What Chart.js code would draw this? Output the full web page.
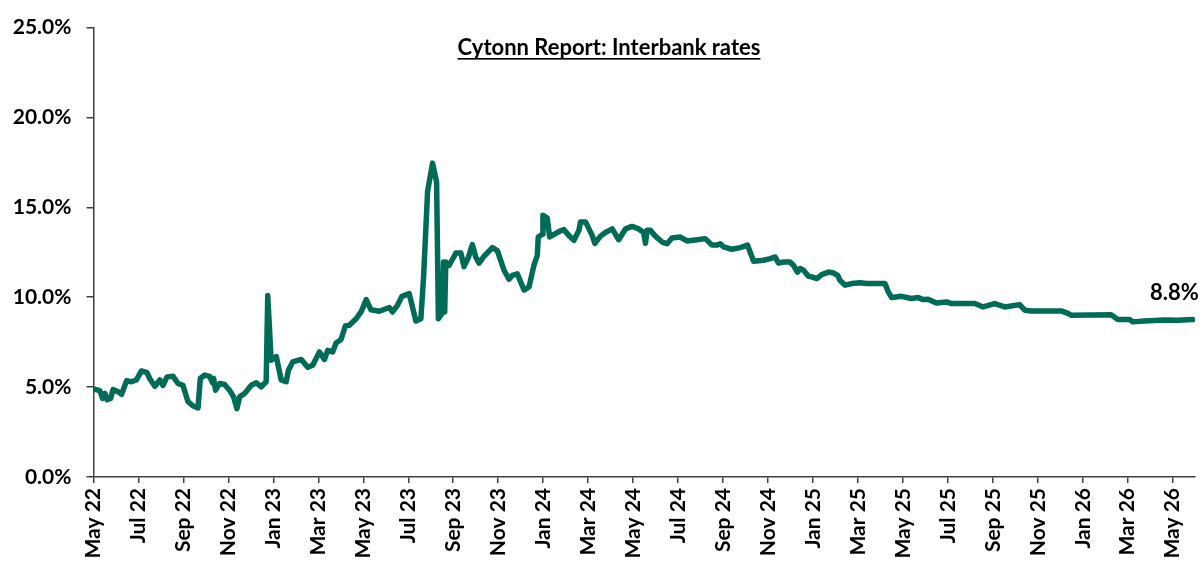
<!DOCTYPE html>
<html>
<head>
<meta charset="utf-8">
<script src="https://cdn.jsdelivr.net/npm/chart.js@4.4.1/dist/chart.umd.min.js"></script>
<style>
html,body{margin:0;padding:0;background:#ffffff;}
#wrap{width:1203px;height:565px;position:relative;}
</style>
</head>
<body>
<div id="wrap"><canvas id="c" width="1203" height="565"></canvas></div>
<script>
const chartTitle = 'Cytonn Report: Interbank rates';

// x tick positions (months since May 2022) and their labels
const tickMonths = [0,2,4,6,8,10,12,14,16,18,20,22,24,26,28,30,32,34,36,38,40,42,44,46,48];
const tickLabels = ['May 22','Jul 22','Sep 22','Nov 22','Jan 23','Mar 23','May 23','Jul 23','Sep 23','Nov 23',
  'Jan 24','Mar 24','May 24','Jul 24','Sep 24','Nov 24','Jan 25','Mar 25','May 25','Jul 25','Sep 25','Nov 25',
  'Jan 26','Mar 26','May 26'];

// series: time (months since May 2022) and interbank rate (%)
const months = [0,0.28,0.40,0.51,0.61,0.76,0.87,1.10,1.25,1.47,1.69,1.91,2.13,2.38,2.50,2.73,2.95,3.09,3.27,3.54,
  3.76,3.98,4.20,4.43,4.65,4.75,4.94,5.17,5.29,5.34,5.43,5.61,5.83,6.05,6.23,6.38,6.50,6.72,7.02,7.24,
  7.46,7.68,7.75,7.90,8.13,8.35,8.57,8.67,8.86,9.24,9.53,9.75,10.05,10.27,10.42,10.64,10.79,11.01,11.20,11.38,
  11.68,11.90,12.13,12.34,12.71,13.16,13.30,13.52,13.72,14.04,14.34,14.56,14.68,14.86,15.08,15.26,15.34,15.52,15.57,15.62,
  15.67,15.82,16.12,16.34,16.48,16.68,16.85,17.00,17.15,17.37,17.74,17.96,18.26,18.48,18.63,18.85,19.15,19.37,19.59,19.74,
  19.78,19.96,19.99,20.18,20.29,20.48,20.78,20.92,21.14,21.37,21.59,21.66,21.89,22.18,22.30,22.55,22.77,23.07,23.36,23.66,
  23.95,24.25,24.47,24.55,24.62,24.77,24.99,25.29,25.51,25.73,26.10,26.40,26.84,27.21,27.51,27.73,27.88,28.02,28.39,28.77,
  29.09,29.36,29.80,30.10,30.32,30.47,30.69,30.98,31.13,31.31,31.43,31.58,31.80,31.94,32.17,32.39,32.69,32.91,33.10,33.20,
  33.43,33.72,34.09,34.39,35.20,35.35,35.50,35.94,36.38,36.68,36.90,37.12,37.49,37.94,38.16,39.20,39.57,40.08,40.53,41.19,
  41.42,41.71,43.04,43.34,43.48,45.26,45.56,46.08,46.22,46.74,47.63,48.22,48.89];
const rates = [4.90,4.80,4.37,4.65,4.30,4.37,4.87,4.74,4.60,5.35,5.30,5.40,5.90,5.80,5.48,5.05,5.40,5.10,5.57,5.60,
  5.20,5.10,4.20,3.95,3.85,5.48,5.67,5.60,5.24,5.48,4.83,5.20,5.15,4.83,4.46,3.80,4.46,4.65,5.10,5.24,
  5.02,5.30,10.10,6.50,6.70,5.40,5.30,5.94,6.40,6.54,6.10,6.22,6.96,6.54,7.05,6.96,7.46,7.65,8.40,8.44,
  8.80,9.18,9.87,9.30,9.22,9.43,9.18,9.55,10.05,10.20,8.68,8.80,11.10,15.90,17.46,16.40,8.80,9.13,11.96,9.18,
  11.96,11.78,12.46,12.46,11.70,12.24,12.93,12.24,11.90,12.28,12.76,12.60,11.50,11.00,11.22,11.30,10.40,10.57,11.78,12.33,
  13.35,13.50,14.56,14.40,13.35,13.50,13.70,13.76,13.44,13.17,13.72,14.18,14.18,13.44,13.00,13.40,13.60,13.80,13.20,13.80,
  13.94,13.80,13.60,13.00,13.72,13.72,13.40,13.07,12.98,13.30,13.35,13.13,13.20,13.26,12.90,12.90,12.98,12.80,12.67,12.76,
  12.90,12.00,12.06,12.15,12.24,11.90,11.96,11.96,11.78,11.40,11.60,11.50,11.17,11.13,11.04,11.26,11.40,11.35,11.22,10.94,
  10.67,10.76,10.80,10.76,10.76,10.30,9.98,10.05,9.93,9.98,9.87,9.89,9.68,9.74,9.65,9.65,9.46,9.65,9.46,9.59,
  9.28,9.24,9.24,9.10,9.00,9.02,8.76,8.76,8.63,8.68,8.74,8.72,8.76];

const yTicks = [0,5,10,15,20,25];

const FONT = 'Lato, "Open Sans", sans-serif';
const LINE_COLOR = '#006B56';
const AXIS_COLOR = '#404040';

const points = months.map((m, i) => ({x: m, y: rates[i]}));

const overlayPlugin = {
  id: 'overlay',
  afterDraw(chart) {
    const ctx = chart.ctx;
    ctx.save();
    // title with underline
    ctx.font = 'bold 22px ' + FONT;
    ctx.fillStyle = '#000';
    ctx.textAlign = 'center';
    ctx.textBaseline = 'alphabetic';
    const tx = 609, ty = 55;
    ctx.fillText(chartTitle, tx, ty);
    const w = ctx.measureText(chartTitle).width;
    ctx.fillRect(tx - w / 2, ty + 3, w, 1.6);
    // last value label
    const meta = chart.getDatasetMeta(0);
    const last = meta.data[meta.data.length - 1];
    const lastVal = rates[rates.length - 1];
    ctx.font = 'bold 22px ' + FONT;
    ctx.textAlign = 'right';
    ctx.textBaseline = 'middle';
    ctx.fillText(lastVal.toFixed(1) + '%', last.x + 6, last.y - 27);
    ctx.restore();
  }
};

new Chart(document.getElementById('c'), {
  type: 'line',
  data: {
    datasets: [{
      data: points,
      borderColor: LINE_COLOR,
      borderWidth: 5.5,
      pointRadius: 0,
      tension: 0,
      borderJoinStyle: 'round',
      borderCapStyle: 'round',
      fill: false
    }]
  },
  options: {
    responsive: false,
    animation: false,
    layout: {padding: {top: 26, right: 5, left: 0, bottom: 0}},
    plugins: {legend: {display: false}, tooltip: {enabled: false}, title: {display: false}},
    scales: {
      x: {
        type: 'linear',
        min: 0,
        max: 49,
        afterBuildTicks: (s) => { s.ticks = tickMonths.map(v => ({value: v})); },
        afterFit: (s) => { s.height = 88; },
        grid: {display: true, drawOnChartArea: false, drawTicks: true, tickLength: 6, color: AXIS_COLOR, lineWidth: 1.5},
        border: {display: true, color: AXIS_COLOR, width: 1.5},
        ticks: {
          autoSkip: false,
          minRotation: 90,
          maxRotation: 90,
          padding: 5,
          color: '#000',
          font: {family: FONT, size: 21, weight: 'bold'},
          callback: (v) => { const i = tickMonths.indexOf(v); return i >= 0 ? tickLabels[i] : ''; }
        }
      },
      y: {
        min: 0,
        max: 25,
        afterBuildTicks: (s) => { s.ticks = yTicks.map(v => ({value: v})); },
        afterFit: (s) => { s.width = 93.5; },
        grid: {display: true, drawOnChartArea: false, drawTicks: true, tickLength: 7, color: AXIS_COLOR, lineWidth: 1.5},
        border: {display: true, color: AXIS_COLOR, width: 1.5},
        ticks: {
          padding: 15,
          color: '#000',
          font: {family: FONT, size: 21, weight: 'bold'},
          callback: (v) => v.toFixed(1) + '%'
        }
      }
    }
  },
  plugins: [overlayPlugin]
});
</script>
</body>
</html>
